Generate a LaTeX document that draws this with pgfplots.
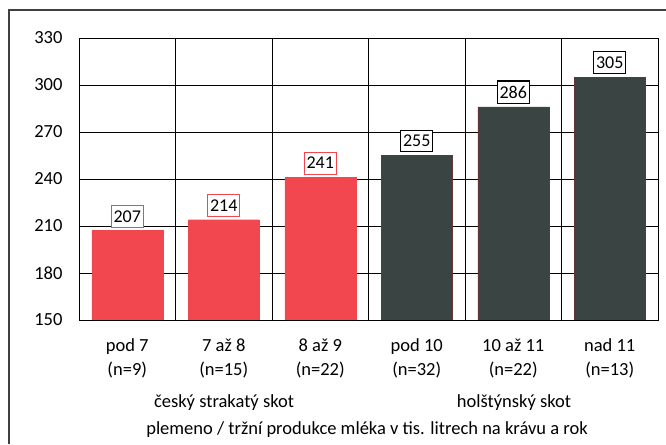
\documentclass[border=0pt]{standalone}
\usepackage{fontspec}
\setmainfont{Carlito}
\usepackage{pgfplots}
\pgfplotsset{compat=1.18}
\definecolor{barred}{HTML}{F2474F}
\definecolor{bardark}{HTML}{3A4443}
\begin{document}
\begin{tikzpicture}
\useasboundingbox (0pt,0pt) rectangle (666pt,444pt);
\fill[white] (0pt,0pt) rectangle (666pt,444pt);
\draw[line width=1.3pt, black!75] (9pt,0pt) -- (9pt,434pt) -- (666pt,434pt);
\begin{axis}[
  at={(79pt,124pt)}, anchor=south west,
  scale only axis, width=579pt, height=282pt,
  ybar, bar width=71pt, bar shift=0pt,
  xmin=-0.5, xmax=5.5, ymin=150, ymax=330,
  ytick={150,180,...,330},
  xtick={0,1,2,3,4,5},
  xticklabels={{pod 7\\[2pt](n=9)},{7 až 8\\[2pt](n=15)},{8 až 9\\[2pt](n=22)},{pod 10\\[2pt](n=32)},{10 až 11\\[2pt](n=22)},{nad 11\\[2pt](n=13)}},
  xticklabel style={align=center, font=\fontsize{18.5}{22}\selectfont, yshift=-15pt},
  yticklabel style={font=\fontsize{18.5}{22}\selectfont, xshift=-13pt},
  /pgf/number format/assume math mode=true,
  minor xtick={-0.5,0.5,...,5.5},
  xminorgrids, ymajorgrids,
  grid style={black, line width=0.7pt},
  minor grid style={black, line width=0.7pt},
  axis line style={black, line width=0.9pt},
  major tick length=0pt, minor tick length=0pt,
  tick style={draw=none},
  nodes near coords,
]
\addplot[fill=barred, draw=barred, nodes near coords style={font=\fontsize{18}{20}\selectfont, fill=white, inner xsep=2.5pt, inner ysep=5pt, anchor=south, yshift=3pt, text=black, draw=barred, line width=0.9pt}] coordinates {(0,207) (1,214) (2,241)};
\addplot[fill=bardark, draw=bardark!80!red, nodes near coords style={font=\fontsize{18}{20}\selectfont, fill=white, inner xsep=2.5pt, inner ysep=5pt, anchor=south, yshift=3pt, text=black, draw=black, line width=1.1pt}] coordinates {(3,255) (4,286) (5,305)};
\end{axis}
\node[font=\fontsize{18.5}{22}\selectfont] at (224pt,41pt) {český strakatý skot};
\node[font=\fontsize{18.5}{22}\selectfont] at (514pt,41pt) {holštýnský skot};
\node[font=\fontsize{18.5}{22}\selectfont] at (367pt,14pt) {plemeno / tržní produkce mléka v tis. litrech na krávu a rok};
\end{tikzpicture}
\end{document}
